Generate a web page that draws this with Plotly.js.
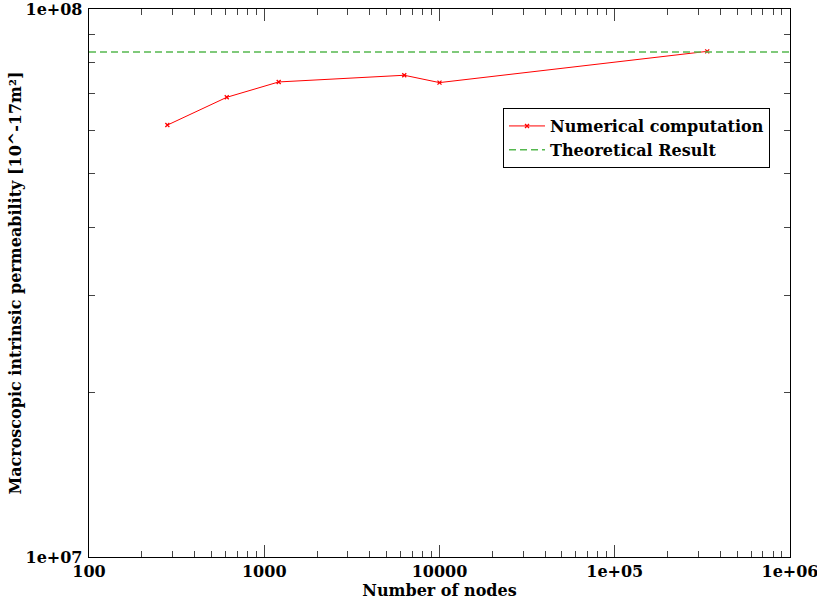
<!DOCTYPE html>
<html>
<head>
<meta charset="utf-8">
<script src="https://cdn.plot.ly/plotly-3.0.1.min.js"></script>
<style>
  html, body { margin: 0; padding: 0; background: #fff; }
  #chart { width: 817px; height: 605px; }
</style>
</head>
<body>
<div id="chart"></div>
<script>
// Mesh refinement study: number of nodes vs. computed permeability
const nodes = [280, 611, 1209, 6295, 10000, 337000];
const permeability = [6.14e7, 6.90e7, 7.36e7, 7.57e7, 7.34e7, 8.37e7];

// Analytical reference value
const theoreticalValue = 8.35e7;
const xRange = [100, 1e6];

const xTickVals = [100, 1000, 10000, 1e5, 1e6];
const xTickText = ['100', '1000', '10000', '1e+05', '1e+06'];
const yTickVals = [1e7, 1e8];
const yTickText = ['1e+07', '1e+08'];

const font = 'DejaVu Serif';
const fontSize = 16;

const traces = [
  {
    x: nodes,
    y: permeability,
    type: 'scatter',
    mode: 'lines+markers',
    name: '<b>Numerical computation</b>',
    line: { color: '#ff0000', width: 1 },
    marker: { symbol: 'x-thin', size: 4, color: '#ff0000', line: { color: '#ff0000', width: 1.3 } }
  },
  {
    x: xRange,
    y: [theoreticalValue, theoreticalValue],
    type: 'scatter',
    mode: 'lines',
    name: '<b>Theoretical Result</b>',
    line: { color: '#55b84f', width: 1.5, dash: '7px,4px' }
  }
];

const axisCommon = {
  type: 'log',
  showgrid: false,
  zeroline: false,
  showline: true,
  linecolor: '#000',
  linewidth: 1.3,
  mirror: 'ticks',
  ticks: 'inside',
  ticklen: 12,
  tickwidth: 1,
  tickcolor: '#444',
  tickmode: 'array',
  ticklabeloverflow: 'allow',
  tickfont: { family: font, size: fontSize, color: '#000', weight: 'bold' },
  minor: { ticks: 'inside', ticklen: 6, tickwidth: 1, tickcolor: '#444', showgrid: false, dtick: 'D1' }
};

const layout = {
  width: 817,
  height: 605,
  margin: { l: 89, r: 27, t: 9, b: 48 },
  paper_bgcolor: '#fff',
  plot_bgcolor: '#fff',
  font: { family: font, color: '#000' },
  showlegend: true,
  legend: {
    x: 0.5906, y: 0.8193,
    xanchor: 'left', yanchor: 'top',
    bgcolor: '#fff',
    bordercolor: '#000',
    borderwidth: 1,
    font: { family: font, size: fontSize, color: '#000' },
    tracegroupgap: 0,
    itemwidth: 36
  },
  xaxis: Object.assign({}, axisCommon, {
    range: [Math.log10(xRange[0]), Math.log10(xRange[1])],
    tickvals: xTickVals,
    ticktext: xTickText,
    ticklabelstandoff: -1,
    title: { text: '<b>Number of nodes</b>', font: { family: font, size: fontSize, color: '#000' }, standoff: 5 }
  }),
  yaxis: Object.assign({}, axisCommon, {
    range: [7, 8],
    tickvals: yTickVals,
    ticktext: yTickText,
    ticklabelstandoff: 2,
    title: { text: '<b>Macroscopic intrinsic permeability [10^-17m²]</b>', font: { family: font, size: fontSize, color: '#000' }, standoff: 0 }
  })
};

Plotly.newPlot('chart', traces, layout, { displayModeBar: false, staticPlot: true });
</script>
</body>
</html>
